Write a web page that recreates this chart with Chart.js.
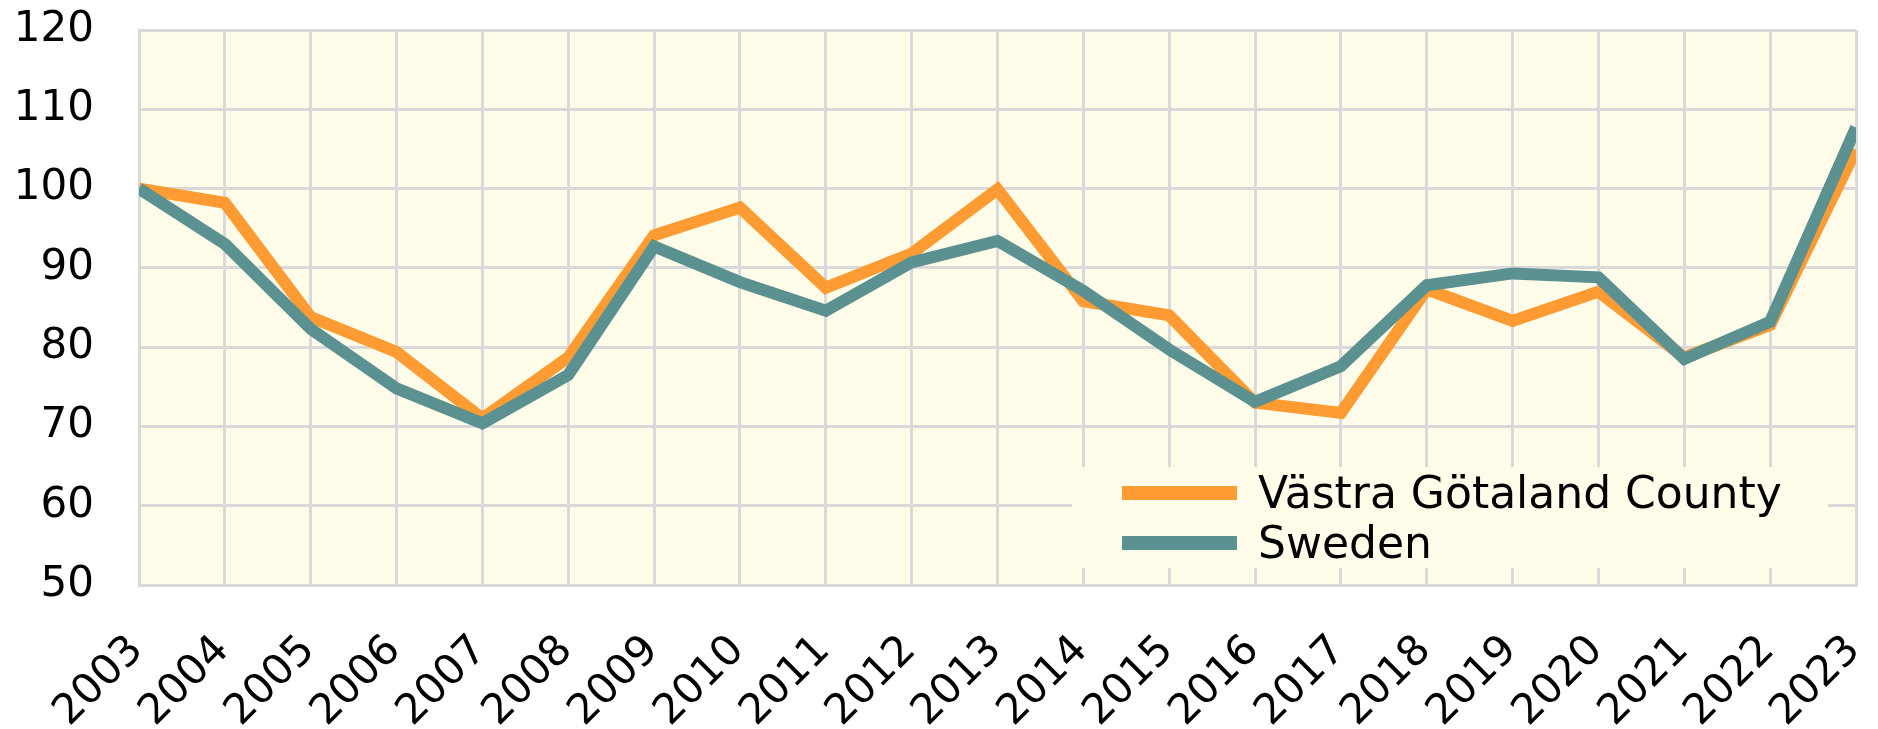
<!DOCTYPE html>
<html>
<head>
<meta charset="utf-8">
<script src="https://cdn.jsdelivr.net/npm/chart.js@4/dist/chart.umd.min.js"></script>
<style>
  html, body { margin: 0; padding: 0; background: #ffffff; }
  #wrap { width: 1878px; height: 729px; }
</style>
</head>
<body>
<div id="wrap"><canvas id="chart" width="1878" height="729"></canvas></div>
<script>
// Data (index, 2003 = 100)
const years = ['2003', '2004', '2005', '2006', '2007', '2008', '2009', '2010', '2011', '2012',
  '2013', '2014', '2015', '2016', '2017', '2018', '2019', '2020', '2021', '2022', '2023'];
const vastraGotaland = [100, 98.2, 83.8, 79.4, 71.0, 78.7, 94.1, 97.6, 87.5, 91.8,
  99.9, 85.8, 84.0, 73.0, 71.7, 87.3, 83.3, 87.0, 78.7, 82.8, 104.9];
const sweden = [100, 93.0, 82.3, 74.8, 70.4, 76.5, 92.7, 88.2, 84.6, 90.7,
  93.4, 87.1, 79.7, 73.1, 77.6, 87.8, 89.3, 88.8, 78.5, 83.2, 107.7];
const seriesNames = ['Västra Götaland County', 'Sweden'];
const yTicks = [50, 60, 70, 80, 90, 100, 110, 120];

const ORANGE = '#ff9b33';
const TEAL = '#5c9191';
const PLOT_BG = '#fffde9';
const GRID = '#d9d9d9';
const FONT = "'DejaVu Sans', Verdana, sans-serif";

// plot background
const plotBg = {
  id: 'plotBg',
  beforeDraw(chart) {
    const { ctx, chartArea: a } = chart;
    ctx.save();
    ctx.fillStyle = PLOT_BG;
    ctx.fillRect(a.left, a.top, a.right - a.left, a.bottom - a.top);
    ctx.restore();
  }
};

// legend sitting in the lower right of the plot, covering the grid
const boxLegend = {
  id: 'boxLegend',
  afterDatasetsDraw(chart) {
    const { ctx, chartArea: a } = chart;
    const boxW = 756, boxH = 101;
    const x0 = a.right - 28 - boxW;
    const y0 = a.bottom - 17 - boxH;
    ctx.save();
    ctx.fillStyle = PLOT_BG;
    ctx.fillRect(x0, y0, boxW, boxH);
    ctx.font = '44px ' + FONT;
    ctx.textBaseline = 'alphabetic';
    ctx.textAlign = 'left';
    // legend order follows the data order, not the draw order
    const ds = [...chart.data.datasets].sort((p, q) => p.legendIndex - q.legendIndex);
    ds.forEach((d, i) => {
      const rowY = y0 + i * 50;
      ctx.fillStyle = d.borderColor;
      ctx.fillRect(x0 + 50, rowY + 19, 115, 14);
      ctx.fillStyle = '#000';
      ctx.fillText(d.label, x0 + 186, rowY + 41);
    });
    ctx.restore();
  }
};

new Chart(document.getElementById('chart'), {
  type: 'line',
  data: {
    labels: years,
    datasets: [
      {
        label: seriesNames[0],
        data: vastraGotaland,
        borderColor: ORANGE,
        borderWidth: 12,
        order: 2,
        legendIndex: 0
      },
      {
        label: seriesNames[1],
        data: sweden,
        borderColor: TEAL,
        borderWidth: 12,
        order: 1, // Sweden is drawn on top
        legendIndex: 1
      }
    ]
  },
  options: {
    responsive: false,
    animation: false,
    devicePixelRatio: 1,
    layout: { padding: { top: 30, right: 22, left: 0, bottom: 0 } },
    elements: {
      point: { radius: 0, hoverRadius: 0 },
      line: { tension: 0, borderJoinStyle: 'miter', borderCapStyle: 'butt', fill: false }
    },
    datasets: { line: { clip: 0 } },
    plugins: {
      legend: { display: false },
      tooltip: { enabled: false }
    },
    scales: {
      x: {
        offset: false,
        grid: { color: GRID, lineWidth: 3, drawTicks: false },
        border: { color: GRID, width: 3 },
        ticks: {
          color: '#000',
          font: { family: FONT, size: 42 },
          minRotation: 45,
          maxRotation: 45,
          autoSkip: false,
          padding: 41,
          labelOffset: -2
        },
        afterFit(scale) {
          scale.height = 144;
          scale.paddingLeft = 0;
          scale.paddingRight = 0;
        }
      },
      y: {
        min: 50,
        max: 120,
        afterBuildTicks(scale) {
          scale.ticks = yTicks.map(v => ({ value: v }));
        },
        grid: { color: GRID, lineWidth: 3, drawTicks: false },
        border: { color: GRID, width: 3 },
        ticks: {
          color: '#000',
          font: { family: FONT, size: 42 },
          padding: 45
        },
        afterFit(scale) {
          scale.width = 139;
          scale.paddingTop = 0;
          scale.paddingBottom = 0;
        }
      }
    }
  },
  plugins: [plotBg, boxLegend]
});
</script>
</body>
</html>
